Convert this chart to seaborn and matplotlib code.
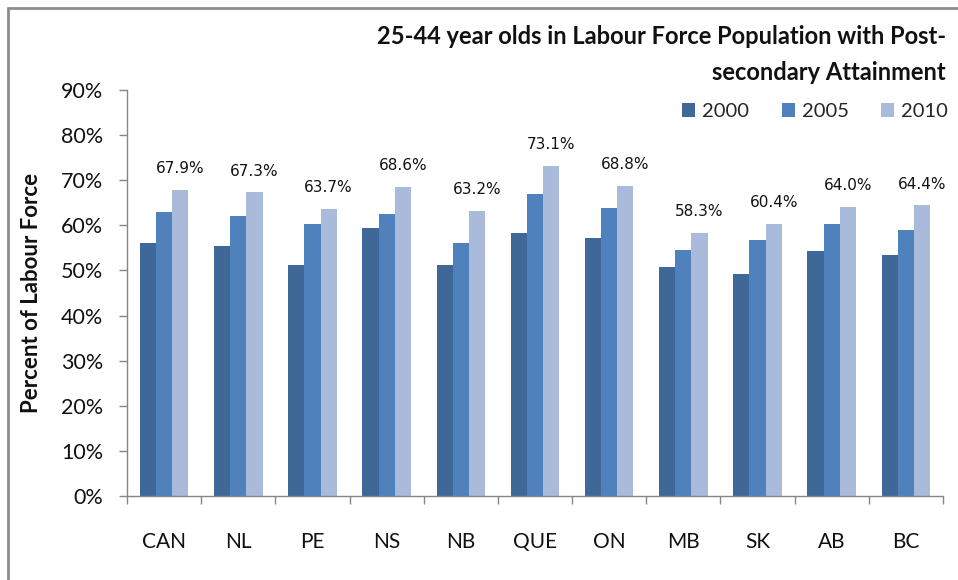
import matplotlib
matplotlib.use("Agg")
import matplotlib.pyplot as plt
import seaborn as sns
import pandas as pd
import numpy as np
from matplotlib.patches import Rectangle
from matplotlib.ticker import FixedLocator, PercentFormatter

regions = ["CAN", "NL", "PE", "NS", "NB", "QUE", "ON", "MB", "SK", "AB", "BC"]
years = ["2000", "2005", "2010"]
v2000 = [56.0, 55.5, 51.2, 59.5, 51.2, 58.4, 57.2, 50.7, 49.2, 54.4, 53.5]
v2005 = [62.9, 62.0, 60.3, 62.6, 56.0, 66.9, 63.8, 54.6, 56.7, 60.3, 58.9]
v2010 = [67.9, 67.3, 63.7, 68.6, 63.2, 73.1, 68.8, 58.3, 60.4, 64.0, 64.4]
colors = ["#3F6899", "#4F81BD", "#A9BADA"]
title = "25-44 year olds in Labour Force Population with Post-\nsecondary Attainment"
ylabel = "Percent of Labour Force"

df = pd.DataFrame({
    "region": regions * 3,
    "year": [years[0]] * 11 + [years[1]] * 11 + [years[2]] * 11,
    "value": v2000 + v2005 + v2010,
})

sns.set_theme(style="white")
plt.rcParams["font.family"] = ["Lato", "DejaVu Sans"]

fig = plt.figure(figsize=(9.58, 5.8), dpi=100)
ax = fig.add_axes([127 / 958, 1 - 496 / 580, (943 - 127) / 958, (496 - 90) / 580])

sns.barplot(data=df, x="region", y="value", hue="year", palette=colors,
            width=0.655, saturation=1, errorbar=None, ax=ax, legend=True,
            linewidth=0, edgecolor="none")

ax.set_ylim(0, 90)
ax.set_xlim(-0.5, 10.5)
ax.yaxis.set_major_locator(FixedLocator(np.arange(0, 91, 10)))
ax.yaxis.set_major_formatter(PercentFormatter(decimals=0))
ax.set_xlabel("")
ax.set_ylabel(ylabel, fontsize=16, fontweight="bold", labelpad=14, color="#111111")

for s in ["top", "right"]:
    ax.spines[s].set_visible(False)
for s in ["left", "bottom"]:
    ax.spines[s].set_color("#868686")
    ax.spines[s].set_linewidth(1.0)

ax.tick_params(axis="y", which="major", left=True, length=6, width=1, color="#868686",
               labelsize=15.5, pad=11, labelcolor="#111111")
ax.tick_params(axis="x", which="major", bottom=False, labelsize=15, pad=20,
               labelcolor="#111111")
ax.xaxis.set_minor_locator(FixedLocator(np.arange(-0.5, 11, 1)))
ax.tick_params(axis="x", which="minor", bottom=True, length=6, width=1, color="#868686")

ax.bar_label(ax.containers[2], fmt="%.1f%%", padding=10, fontsize=11,
             family="DejaVu Sans", color="#111111")

leg = ax.legend(loc="upper right", bbox_to_anchor=(948 / 958, 1 - 103 / 580),
                bbox_transform=fig.transFigure, ncol=3, frameon=False, fontsize=14.5,
                handlelength=0.65, handleheight=0.65, handletextpad=0.35,
                columnspacing=1.6, borderaxespad=0, borderpad=0)

fig.text(946 / 958, 1 - 25 / 580, title, ha="right", va="top", fontsize=17,
         fontweight="bold", linespacing=1.7, color="#111111")

fig.patches.append(Rectangle((8 / 958, -0.1), 1.2, 1 - 8 / 580 + 0.1,
                             transform=fig.transFigure, fill=False,
                             edgecolor="#8C8C8C", linewidth=2.0, zorder=-1))

fig.savefig("out.png", dpi=100)
